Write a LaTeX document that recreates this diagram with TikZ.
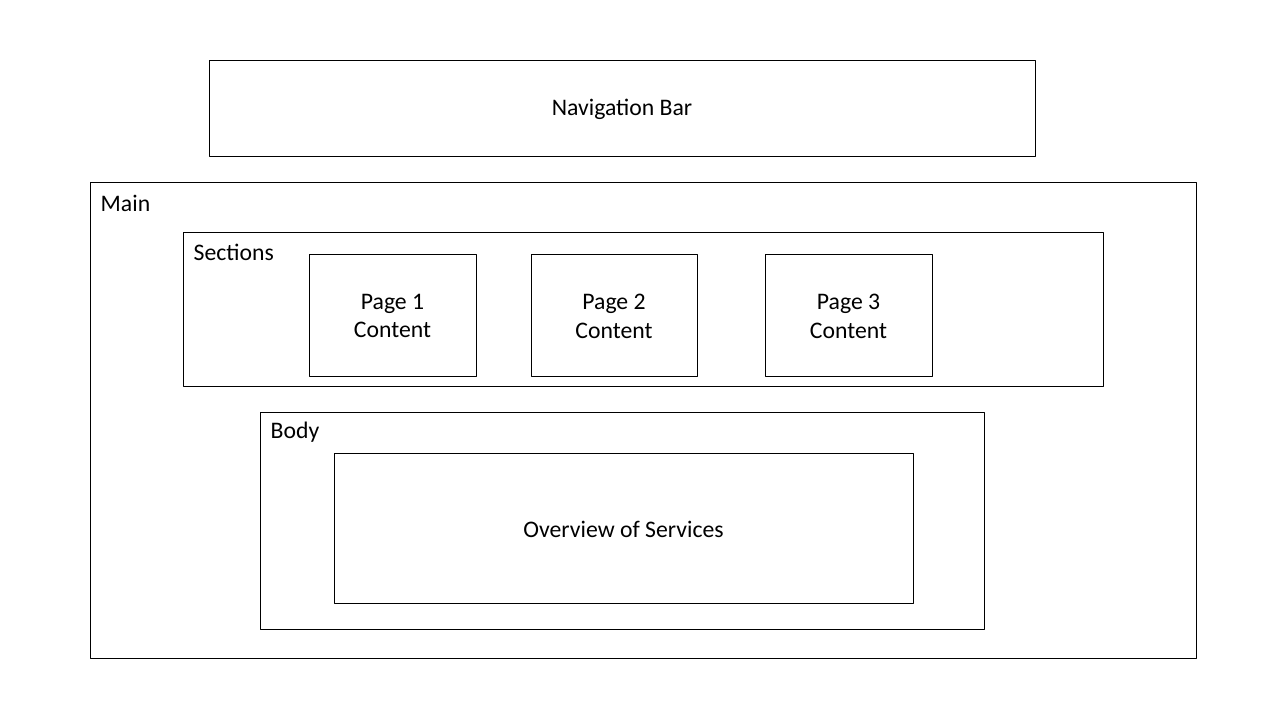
\documentclass[tikz,border=0pt]{standalone}
\usepackage{fontspec}
\setmainfont{Carlito}
\begin{document}
\begin{tikzpicture}[line join=round, line cap=round, font=\fontsize{6.75}{8.2}\selectfont,
	box/.style={draw, line width=0.28pt, inner sep=0pt, align=center},
	tag/.style={anchor=west, inner sep=0pt}]
	\useasboundingbox (0,0) rectangle (12.8,7.2);
	\path (0.90,5.37)coordinate(M1) (11.96,0.61)coordinate(M2)
	      (1.83,4.87)coordinate(S1) (11.03,3.33)coordinate(S2)
	      (2.60,3.07)coordinate(B1) (9.84,0.90)coordinate(B2) ;

\draw[line width=0.28pt] (M1) rectangle (M2);
\draw[line width=0.28pt] (S1) rectangle (S2);
\draw[line width=0.28pt] (B1) rectangle (B2);
	\node[tag] (main) at (1.00,5.17) {Main};
	\node[tag] (sections) at (1.93,4.68) {Sections};
	\node[tag] (body) at (2.70,2.88) {Body};

	\node[box, minimum width=8.26cm, minimum height=0.96cm] (nav) at (6.22,6.11) {Navigation Bar};
	\node[box, minimum width=1.67cm, minimum height=1.22cm] (page1) at (3.925,4.04) {Page 1\\Content};
	\node[box, minimum width=1.66cm, minimum height=1.22cm] (page2) at (6.14,4.04) {Page 2\\Content};
	\node[box, minimum width=1.67cm, minimum height=1.22cm] (page3) at (8.485,4.04) {Page 3\\Content};
	\node[box, minimum width=5.79cm, minimum height=1.50cm] (overview) at (6.235,1.91) {Overview of Services};
\end{tikzpicture}
\end{document}
